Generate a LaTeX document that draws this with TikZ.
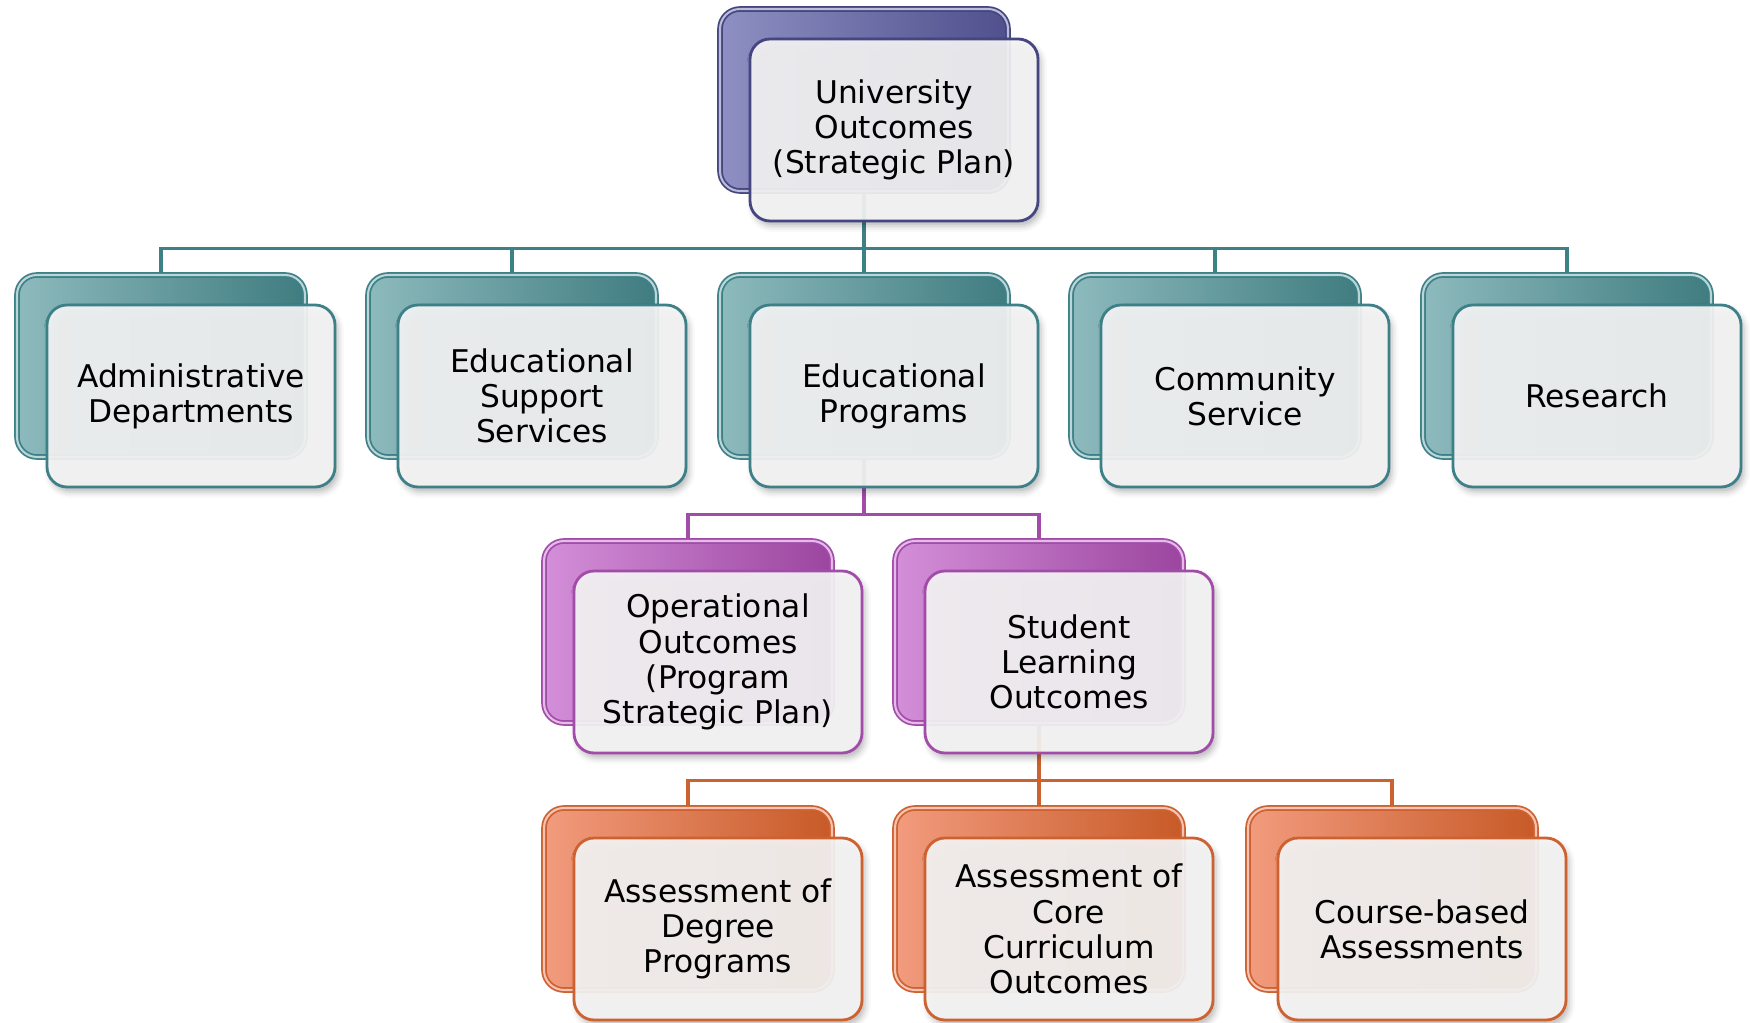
\documentclass[tikz,border=0pt]{standalone}
\usepackage{fontspec}
\setmainfont{DejaVu Sans}
\usetikzlibrary{calc, backgrounds, shadows.blur}
\definecolor{color1}{HTML}{8E8FC2}
\definecolor{color1dark}{HTML}{4F508D}
\definecolor{color1line}{HTML}{45467F}
\definecolor{color2}{HTML}{8DBABD}
\definecolor{color2dark}{HTML}{3F7C80}
\definecolor{color2line}{HTML}{3D8088}
\definecolor{color3}{HTML}{D48FD9}
\definecolor{color3dark}{HTML}{9B459F}
\definecolor{color3line}{HTML}{A24CAA}
\definecolor{color4}{HTML}{F29B7E}
\definecolor{color4dark}{HTML}{C75A27}
\definecolor{color4line}{HTML}{CD6130}
\tikzstyle{card} = [
    rectangle,
    rounded corners=0.2cm,
    align=center,
    minimum width=2.88cm,
    minimum height=1.82cm,
    text centered,
    fill=black!4,
    fill opacity=0.92,
    text opacity=1,
    line width=0.8pt,
    font=\fontsize{8.9}{10}\selectfont,
    blur shadow={shadow xshift=0.03cm, shadow yshift=-0.05cm,
        shadow blur radius=0.06cm, shadow opacity=30},
]
\tikzstyle{back} = [
    rectangle,
    rounded corners=0.2cm,
    minimum width=2.88cm,
    minimum height=1.82cm,
    line width=0.5pt,
    double distance=0.6pt,
]
\tikzstyle{ucard} = [card, draw=color1line]
\tikzstyle{tcard} = [card, draw=color2line]
\tikzstyle{pcard} = [card, draw=color3line]
\tikzstyle{ocard} = [card, draw=color4line]
\tikzstyle{uback} = [back, left color=color1, right color=color1dark,
    draw=color1line, double=color1!60]
\tikzstyle{tback} = [back, left color=color2, right color=color2dark,
    draw=color2line, double=color2!60]
\tikzstyle{pback} = [back, left color=color3, right color=color3dark,
    draw=color3line, double=color3!60]
\tikzstyle{oback} = [back, left color=color4, right color=color4dark,
    draw=color4line, double=color4!60]
\tikzstyle{link} = [line width=0.9pt]

\begin{document}
\begin{tikzpicture}
    \useasboundingbox (0,0) rectangle (17.5,-10.23);

    % back cards
    \node (buo) [uback] at (8.64,-1.00) {};
    \node (bad) [tback] at (1.61,-3.66) {};
    \node (bes) [tback] at (5.12,-3.66) {};
    \node (bep) [tback] at (8.64,-3.66) {};
    \node (bcs) [tback] at (12.15,-3.66) {};
    \node (bre) [tback] at (15.67,-3.66) {};
    \node (boo) [pback] at (6.88,-6.32) {};
    \node (bsl) [pback] at (10.39,-6.32) {};
    \node (bdp) [oback] at (6.88,-8.99) {};
    \node (bcc) [oback] at (10.39,-8.99) {};
    \node (bcb) [oback] at (13.92,-8.99) {};

    % front cards
    \node (uo) [ucard] at (8.94,-1.30) {University\\ Outcomes\\ (Strategic Plan)};
    \node (ad) [tcard] at (1.91,-3.96) {Administrative\\ Departments};
    \node (es) [tcard] at (5.42,-3.96) {Educational\\ Support\\ Services};
    \node (ep) [tcard] at (8.94,-3.96) {Educational\\ Programs};
    \node (cs) [tcard] at (12.45,-3.96) {Community\\ Service};
    \node (re) [tcard] at (15.97,-3.96) {Research};
    \node (oo) [pcard] at (7.18,-6.62) {Operational\\ Outcomes\\ (Program\\ Strategic Plan)};
    \node (sl) [pcard] at (10.69,-6.62) {Student\\ Learning\\ Outcomes};
    \node (dp) [ocard] at (7.18,-9.29) {Assessment of\\ Degree\\ Programs};
    \node (cc) [ocard] at (10.69,-9.29) {Assessment of\\ Core\\ Curriculum\\ Outcomes};
    \node (cb) [ocard] at (14.22,-9.29) {Course-based\\ Assessments};

    % tree lines, kept under the cards
    \begin{scope}[on background layer]
        \coordinate (j1) at ($(buo.south)+(0,-0.57)$);
        \coordinate (j2) at ($(bep.south)+(0,-0.57)$);
        \coordinate (j3) at ($(bsl.south)+(0,-0.57)$);
        \draw [link, color2line] (buo.south) -- (j1);
        \draw [link, color2line] (j1) -| (bad.north);
        \draw [link, color2line] (j1) -| (bes.north);
        \draw [link, color2line] (j1) -| (bep.north);
        \draw [link, color2line] (j1) -| (bcs.north);
        \draw [link, color2line] (j1) -| (bre.north);
        \draw [link, color3line] (bep.south) -- (j2);
        \draw [link, color3line] (j2) -| (boo.north);
        \draw [link, color3line] (j2) -| (bsl.north);
        \draw [link, color4line] (bsl.south) -- (j3);
        \draw [link, color4line] (j3) -| (bdp.north);
        \draw [link, color4line] (j3) -| (bcc.north);
        \draw [link, color4line] (j3) -| (bcb.north);
    \end{scope}
\end{tikzpicture}
\end{document}
